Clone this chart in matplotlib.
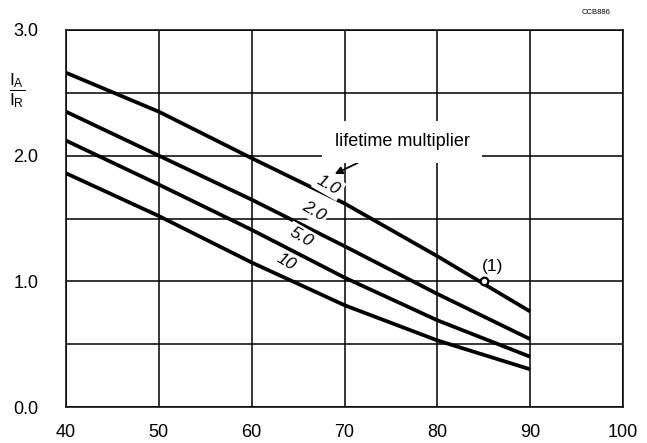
import numpy as np
import matplotlib
matplotlib.use("Agg")
import matplotlib.pyplot as plt
from matplotlib.ticker import MultipleLocator

plt.rcParams['font.family'] = ['Liberation Sans', 'DejaVu Sans']
plt.rcParams['mathtext.default'] = 'regular'

# temperature (x) and I_A/I_R curves for each lifetime multiplier
temp = [40, 50, 60, 70, 80, 90]
mult_labels = ['1.0', '2.0', '5.0', '10']
ratio_1 = [2.66, 2.35, 1.98, 1.62, 1.20, 0.76]
ratio_2 = [2.35, 2.00, 1.65, 1.28, 0.90, 0.54]
ratio_5 = [2.12, 1.77, 1.41, 1.03, 0.69, 0.40]
ratio_10 = [1.86, 1.52, 1.15, 0.81, 0.53, 0.30]
# marked point (1)
note_x, note_y = 85, 1.0
# where each multiplier label sits
label_x = [68.3, 66.7, 65.3, 63.7]
label_y = [1.765, 1.56, 1.355, 1.155]

fig = plt.figure(figsize=(6.47, 4.43), dpi=100)
ax = fig.add_axes([66/647, 36/443, 557/647, 377/443])

for ys in [ratio_1, ratio_2, ratio_5, ratio_10]:
    ax.plot(temp, ys, color='k', lw=2.7, solid_capstyle='butt', zorder=3)

ax.plot(note_x, note_y, 'o', ms=5.5, mfc='white', mec='k', mew=1.6, zorder=4)
ax.text(note_x + 0.9, note_y + 0.06, '(1)', fontsize=12.5, ha='center', va='bottom', zorder=5)

for lab, lx, ly in zip(mult_labels, label_x, label_y):
    ax.text(lx, ly, lab, fontsize=12.5, style='italic', rotation=-30,
            ha='center', va='center', zorder=5,
            bbox=dict(boxstyle='square,pad=0.15', fc='white', ec='none'))

ax.annotate('lifetime multiplier', xy=(68.95, 1.855), xytext=(76.2, 2.11),
            fontsize=13, ha='center', va='center', zorder=5,
            bbox=dict(boxstyle='square,pad=0.7', fc='white', ec='none'),
            arrowprops=dict(arrowstyle='-|>', color='k', lw=1.3,
                            mutation_scale=11, shrinkA=0, shrinkB=0))

ax.set_xlim(40, 100)
ax.set_ylim(0, 3.0)
ax.xaxis.set_major_locator(MultipleLocator(10))
ax.yaxis.set_major_locator(MultipleLocator(1.0))
ax.yaxis.set_minor_locator(MultipleLocator(0.5))
ax.yaxis.set_major_formatter(plt.FormatStrFormatter('%.1f'))
ax.grid(True, which='both', color='k', lw=1.1, zorder=1)
ax.set_axisbelow(True)
ax.tick_params(which='both', length=0, labelsize=13)
ax.tick_params(axis='x', pad=12)
ax.tick_params(axis='y', pad=20)
for sp in ax.spines.values():
    sp.set_linewidth(1.1)

fig.text(17/647, 1 - 91/443, r'$\dfrac{I_A}{I_R}$', fontsize=12.5, ha='center', va='center')
fig.text(596/647, 1 - 13/443, 'CCB886', fontsize=5.5, ha='center', va='center')

fig.savefig('out.png', dpi=100)
